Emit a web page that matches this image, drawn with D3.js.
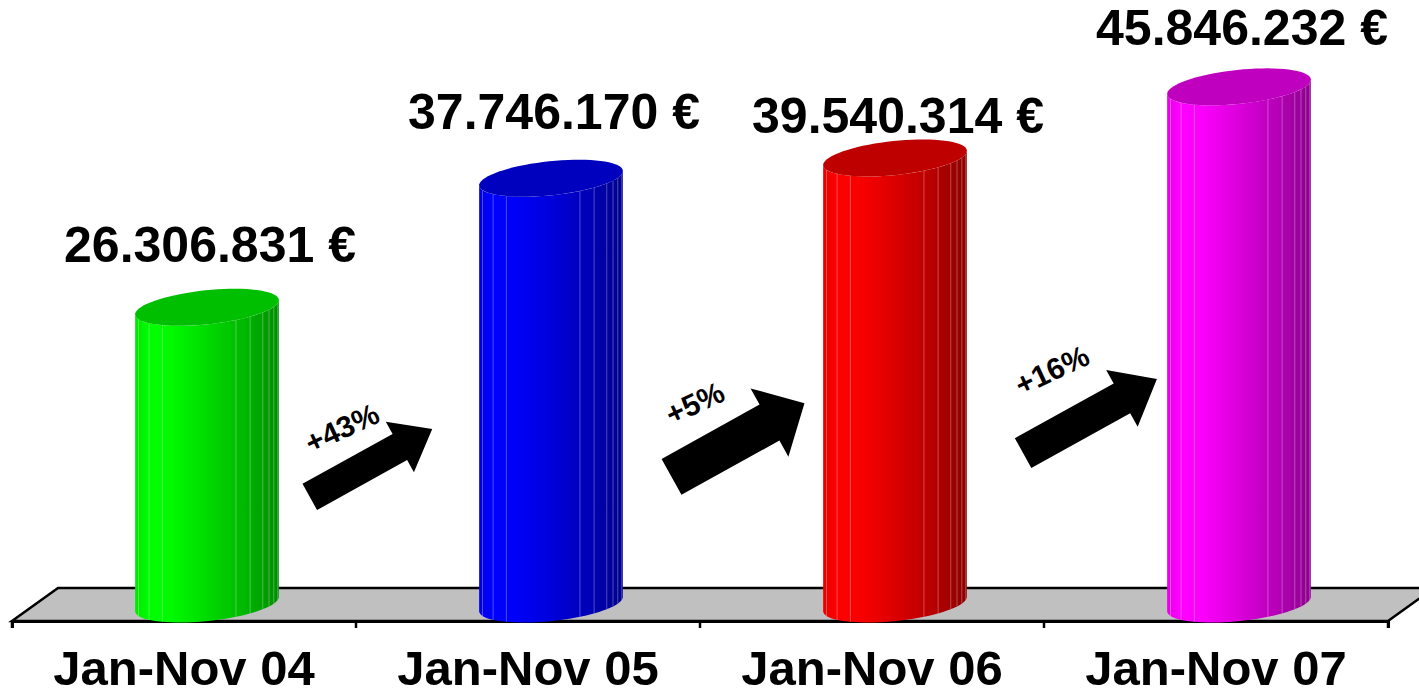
<!DOCTYPE html>
<html>
<head>
<meta charset="utf-8">
<script src="https://cdn.jsdelivr.net/npm/d3@7"></script>
<style>
  html, body { margin: 0; padding: 0; background: #fff; }
  svg { display: block; }
  text { font-family: Arial, "Liberation Sans", Helvetica, sans-serif; font-weight: bold; }
</style>
</head>
<body>
<svg id="chart" width="1419" height="691"></svg>
<script>
// ---- data ----
const categories = ["Jan-Nov 04", "Jan-Nov 05", "Jan-Nov 06", "Jan-Nov 07"];
const values = [26306831, 37746170, 39540314, 45846232];
const valueLabels = ["26.306.831 €", "37.746.170 €", "39.540.314 €", "45.846.232 €"];
const colors = ["#00ff00", "#0000ff", "#ff0000", "#ff00ff"];
const changeLabels = ["+43%", "+5%", "+16%"];

// ---- layout (annotation placement) ----
const labelNudge = [0, -4, 20, 3];
const arrows = [
  { cx: 371, cy: 463, L: 140, w: 15, h: 29, hl: 37, tx: 342, ty: 428 },
  { cx: 738, cy: 440, L: 152, w: 20.5, h: 39, hl: 40, tx: 695, ty: 403 },
  { cx: 1090, cy: 416, L: 153, w: 17, h: 32.5, hl: 40, tx: 1052, ty: 370 }
];

const svg = d3.select("#chart");
const defs = svg.append("defs");

const floorFront = 621, depthX = 46, depthY = 33;
const x = d3.scaleBand().domain(categories).range([12, 1388]).paddingInner(0).paddingOuter(0);
const y = d3.scaleLinear().domain([0, 50e6]).range([604, 40]);

// floor
const x0 = x.range()[0], x1 = x.range()[1];
svg.append("path")
  .attr("d", `M${x0},${floorFront} L${x0 + depthX},${floorFront - depthY} L${x1 + depthX},${floorFront - depthY} L${x1},${floorFront} Z`)
  .attr("fill", "#c0c0c0").attr("stroke", "#000").attr("stroke-width", 2.5).attr("stroke-linejoin", "miter");

// axis line + ticks
const axis = d3.axisBottom(x).tickSize(7).tickSizeOuter(7).tickFormat("");
const gAxis = svg.append("g").attr("transform", `translate(0,${floorFront})`).call(axis);
gAxis.select(".domain").attr("stroke", "#000").attr("stroke-width", 3);
gAxis.selectAll(".tick").remove();
const boundaries = categories.map(c => x(c)).concat([x1]);
gAxis.selectAll("line.bt").data(boundaries).join("line")
  .attr("class", "bt").attr("x1", d => d).attr("x2", d => d).attr("y1", 0).attr("y2", 7)
  .attr("stroke", "#000").attr("stroke-width", 2.5);

// category labels
svg.append("g").selectAll("text").data(categories).join("text")
  .attr("x", d => x(d) + x.bandwidth() / 2)
  .attr("y", 685)
  .attr("text-anchor", "middle")
  .attr("font-size", 49)
  .attr("fill", "#000")
  .text(d => d);

// cylinders
const rx = x.bandwidth() * 0.21, ry = 17, tilt = -6 * Math.PI / 180;
function ept(cx, cy, t) {
  const ex = rx * Math.cos(t), ey = ry * Math.sin(t);
  return [cx + ex * Math.cos(tilt) - ey * Math.sin(tilt), cy + ex * Math.sin(tilt) + ey * Math.cos(tilt)];
}
const facetFracs = [0.02, 0.09, 0.18, 0.69, 0.79, 0.88, 0.925, 0.96, 0.99];

categories.forEach((c, i) => {
  const cx = x(c) + x.bandwidth() / 2 + depthX / 2;
  const base = y(0), top = y(values[i]);
  const col = d3.color(colors[i]);
  const shade = k => d3.rgb(col.r * k, col.g * k, col.b * k).formatHex();

  const gid = "grad" + i;
  const grad = defs.append("linearGradient").attr("id", gid)
    .attr("gradientUnits", "userSpaceOnUse")
    .attr("x1", cx - rx).attr("x2", cx + rx).attr("y1", 0).attr("y2", 0);
  [[0, 0.9], [0.1, 1.0], [0.25, 0.98], [0.5, 0.86], [0.75, 0.72], [1, 0.55]].forEach(s => {
    grad.append("stop").attr("offset", s[0]).attr("stop-color", shade(s[1]));
  });

  const g = svg.append("g");
  const N = 40;
  const bottomArc = d3.range(N + 1).map(k => ept(cx, base, Math.PI - Math.PI * k / N));
  const topArc = d3.range(N + 1).map(k => ept(cx, top, Math.PI * k / N));
  const pl = ept(cx, top, Math.PI);
  const line = d3.line();
  const d = "M" + pl.join(",") + " L" + bottomArc.map(p => p.join(",")).join(" L") +
            " L" + topArc.map(p => p.join(",")).join(" L") + " Z";
  g.append("path").attr("d", d).attr("fill", `url(#${gid})`);

  // facet lines
  facetFracs.forEach(f => {
    const t = Math.acos(2 * f - 1);
    const pt = ept(cx, top, t), pb = ept(cx, base, t);
    g.append("line").attr("x1", pt[0]).attr("y1", pt[1]).attr("x2", pb[0]).attr("y2", pb[1])
      .attr("stroke", "#ffffff").attr("stroke-opacity", 0.3).attr("stroke-width", 1);
  });

  // top
  const topPts = d3.range(0, 72).map(k => ept(cx, top, 2 * Math.PI * k / 72));
  g.append("path").attr("d", line(topPts) + "Z").attr("fill", shade(0.75));

  // value label
  svg.append("text")
    .attr("x", cx + 3)
    .attr("y", top - 45 + labelNudge[i])
    .attr("text-anchor", "middle")
    .attr("font-size", 50)
    .attr("fill", "#000")
    .text(valueLabels[i]);
});

// arrows
const angle = -29;
arrows.forEach((a, i) => {
  const L = a.L, w = a.w, h = a.h, hl = a.hl;
  const pts = [[-L / 2, -w], [L / 2 - hl, -w], [L / 2 - hl, -h], [L / 2, 0], [L / 2 - hl, h], [L / 2 - hl, w], [-L / 2, w]];
  svg.append("path")
    .attr("d", d3.line()(pts) + "Z")
    .attr("transform", `translate(${a.cx},${a.cy}) rotate(${angle})`)
    .attr("fill", "#000");
  svg.append("text")
    .attr("transform", `translate(${a.tx},${a.ty}) rotate(-25)`)
    .attr("text-anchor", "middle")
    .attr("dy", "0.35em")
    .attr("font-size", 30)
    .attr("fill", "#000")
    .text(changeLabels[i]);
});
</script>
</body>
</html>
